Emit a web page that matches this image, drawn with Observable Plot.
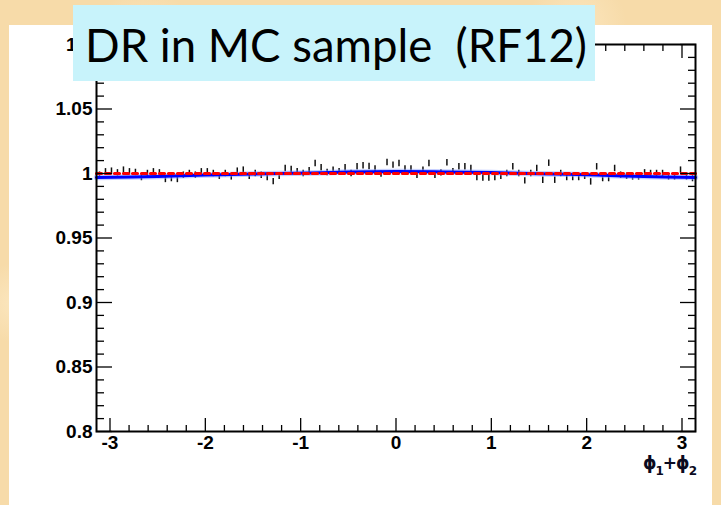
<!DOCTYPE html>
<html>
<head>
<meta charset="utf-8">
<script src="https://cdn.jsdelivr.net/npm/d3@7"></script>
<script src="https://cdn.jsdelivr.net/npm/@observablehq/plot@0.6"></script>
<style>
  html, body { margin: 0; padding: 0; }
  body {
    width: 721px; height: 505px; position: relative; overflow: hidden;
    background:
      radial-gradient(circle at 20% 10%, rgba(255,240,210,0.6) 0, rgba(255,240,210,0) 60px),
      radial-gradient(circle at 80% 5%, rgba(255,240,210,0.5) 0, rgba(255,240,210,0) 50px),
      radial-gradient(circle at 2% 60%, rgba(255,240,210,0.5) 0, rgba(255,240,210,0) 40px),
      #f7dba9;
  }
  #panel { position: absolute; left: 9px; top: 25px; width: 703px; height: 480px; background: #fff; }
  #chart { position: absolute; left: 0; top: 0; }
  #title { position: absolute; left: 73px; top: 5px; width: 522px; height: 76px; background: #c8f3fb; }
  #title svg { display: block; overflow: visible; }
  #xlabel {
    position: absolute; right: 25px; top: 455px; line-height: 1;
    font-family: "DejaVu Sans", sans-serif; font-weight: bold; font-size: 17px; color: #0a0a20;
    letter-spacing: -1px;
  }
  #xlabel sub { font-size: 12px; vertical-align: -6px; line-height: 1; }
</style>
</head>
<body>
<div id="panel"></div>
<div id="chart"></div>
<div id="xlabel">ϕ<sub>1</sub>+ϕ<sub>2</sub></div>
<div id="title"></div>
<script>
// ---- data ----
const titleText = "DR in MC sample\u00a0\u00a0(RF12)";
const nBins = 100;
const ratio = [
  0.9987, 1.0013, 1.0018, 1.0005, 1.0026, 1.0013, 1.0008, 0.9969, 1.0000, 1.0013,
  1.0005, 0.9954, 0.9961, 0.9954, 0.9987, 1.0000, 0.9987, 1.0013, 1.0013, 1.0000,
  0.9979, 1.0000, 0.9974, 1.0018, 1.0026, 0.9979, 1.0000, 0.9987, 0.9969, 0.9937,
  0.9979, 1.0039, 1.0031, 1.0013, 1.0000, 1.0021,
  1.0077, 1.0045, 1.0008, 1.0026, 1.0013, 1.0045, 1.0000, 1.0052, 1.0060, 1.0055,
  1.0035, 0.9995, 1.0085, 1.0065, 1.0077, 1.0035, 1.0035, 0.9987, 1.0026, 1.0077,
  0.9987, 1.0005, 1.0083, 1.0013, 1.0052, 1.0052, 1.0039, 0.9969, 0.9965, 0.9965,
  0.9969,
  0.9979, 1.0000, 1.0052, 1.0000, 0.9943, 1.0000, 1.0039, 0.9948, 1.0080, 0.9948,
  1.0000, 0.9969, 0.9969, 0.9969, 0.9979, 0.9935, 1.0052, 0.9961, 0.9961, 1.0039,
  0.9987, 0.9979, 0.9974, 0.9974, 1.0005, 1.0000, 1.0000, 1.0000, 0.9974, 0.9974,
  1.0026, 0.9974, 0.9961
];
const binError = 0.0025;

// blue fit curve, read at a few points
const fitPhi = [-3.1416, -2.5, -2.0, -1.5, -0.9, -0.5, 0.0, 0.5, 1.0, 1.5, 2.1, 2.6, 3.1416];
const fitVal = [0.9969, 0.9976, 0.9988, 0.9996, 1.0004, 1.0011, 1.0015, 1.0012, 1.0007, 0.9999, 0.9988, 0.9976, 0.9969];

// red dashed flat fit
const flatPhi = [-3.1416, 3.1416];
const flatVal = [1.0, 1.0];

// axes
const yMajor = [0.8, 0.85, 0.9, 0.95, 1.0, 1.05, 1.1];
const yMajorLabels = ["0.8", "0.85", "0.9", "0.95", "1", "1.05", "1.1"];
const xMajor = [-3, -2, -1, 0, 1, 2, 3];
const xMajorLabels = ["-3", "-2", "-1", "0", "1", "2", "3"];

// ---- build ----
const lo = -Math.PI, hi = Math.PI, w = (hi - lo) / nBins;
const points = ratio.map((v, i) => ({phi: lo + (i + 0.5) * w, v, e: binError}));
const fit = fitPhi.map((p, i) => ({phi: p, v: fitVal[i]}));
const flat = flatPhi.map((p, i) => ({phi: p, v: flatVal[i]}));

const yMinor = d3.range(80, 111).map(d => d / 100).filter(d => !yMajor.some(m => Math.abs(m - d) < 1e-9));
const xMinor = d3.range(-15, 16).map(d => d / 5).filter(d => !Number.isInteger(d) && d > lo && d < hi);

const yFmt = d => yMajorLabels[yMajor.findIndex(m => Math.abs(m - d) < 1e-9)];
const xFmt = d => xMajorLabels[xMajor.indexOf(d)];

const chart = Plot.plot({
  width: 721,
  height: 505,
  marginLeft: 96,
  marginRight: 26,
  marginTop: 44,
  marginBottom: 74,
  style: {
    background: "transparent",
    fontFamily: "'Liberation Sans', Arial, sans-serif",
    fontSize: "19px",
    fontWeight: "bold",
    color: "#000",
    overflow: "visible"
  },
  x: {domain: [lo, hi]},
  y: {domain: [0.8, 1.1]},
  marks: [
    // error bars
    Plot.ruleX(points, {x: "phi", y1: d => d.v - d.e, y2: d => d.v + d.e, stroke: "#111", strokeWidth: 1.5}),
    // blue fit
    Plot.line(fit, {x: "phi", y: "v", curve: "catmull-rom", stroke: "#8fa0ff", strokeWidth: 5.5, strokeOpacity: 0.5}),
    Plot.line(fit, {x: "phi", y: "v", curve: "catmull-rom", stroke: "#0000ff", strokeWidth: 3}),
    // red dashed
    Plot.line(flat, {x: "phi", y: "v", stroke: "#ff0000", strokeWidth: 3.2, strokeDasharray: "5,4"}),
    // ticks (inward)
    Plot.axisY(yMajor, {anchor: "left", tickSize: -16, fill: "none", label: null, strokeWidth: 1.3}),
    Plot.axisY(yMinor, {anchor: "left", tickSize: -8, fill: "none", label: null, strokeWidth: 1.3}),
    Plot.axisY(yMajor, {anchor: "right", tickSize: -16, fill: "none", label: null, strokeWidth: 1.3}),
    Plot.axisY(yMinor, {anchor: "right", tickSize: -8, fill: "none", label: null, strokeWidth: 1.3}),
    Plot.axisX(xMajor, {anchor: "bottom", tickSize: -13, fill: "none", label: null, strokeWidth: 1.3}),
    Plot.axisX(xMinor, {anchor: "bottom", tickSize: -6, fill: "none", label: null, strokeWidth: 1.3}),
    Plot.axisX(xMajor, {anchor: "top", tickSize: -13, fill: "none", label: null, strokeWidth: 1.3}),
    Plot.axisX(xMinor, {anchor: "top", tickSize: -6, fill: "none", label: null, strokeWidth: 1.3}),
    // tick labels
    Plot.axisY(yMajor, {anchor: "left", tickSize: 0, tickPadding: 4, tickFormat: yFmt, label: null}),
    Plot.axisX(xMajor, {anchor: "bottom", tickSize: 0, tickPadding: 4, tickFormat: xFmt, label: null}),
    Plot.frame({stroke: "#000", strokeWidth: 2})
  ]
});
document.getElementById("chart").append(chart);

// title box text
const tsvg = d3.select("#title").append("svg").attr("width", 522).attr("height", 76);
tsvg.append("text")
  .attr("x", 12).attr("y", 57)
  .attr("textLength", 502).attr("lengthAdjust", "spacingAndGlyphs")
  .style("font-family", "Lato, 'Open Sans', sans-serif")
  .style("font-size", "47px")
  .style("fill", "#000")
  .text(titleText);
</script>
</body>
</html>
